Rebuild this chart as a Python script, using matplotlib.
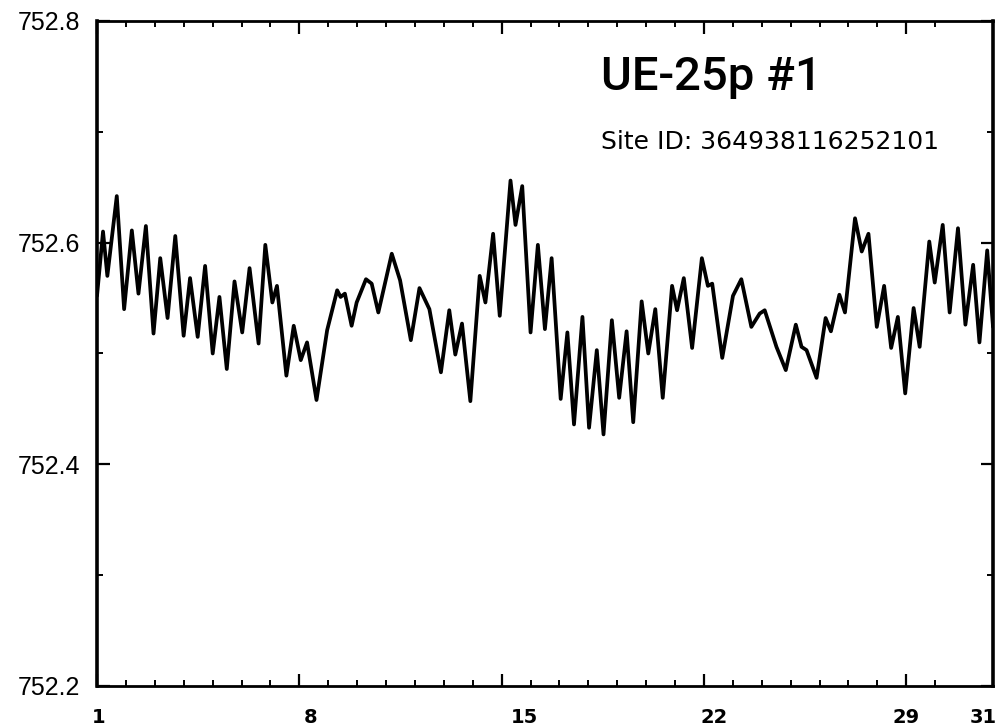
import matplotlib
matplotlib.use("Agg")
import matplotlib.pyplot as plt
import matplotlib.transforms as mtransforms
from matplotlib.ticker import MultipleLocator

# ---- data ----
day = [1.000, 1.208, 1.358, 1.684, 1.938, 2.205, 2.434, 2.691, 2.955, 3.188,
       3.441, 3.708, 3.997, 4.219, 4.483, 4.740, 5.003, 5.236, 5.490, 5.757,
       6.024, 6.278, 6.590, 6.823, 7.066, 7.226, 7.552, 7.806, 8.049, 8.267,
       8.594, 8.962, 9.309, 9.427, 9.576, 9.809, 9.983, 10.306, 10.503, 10.733,
       11.198, 11.486, 11.858, 12.156, 12.500, 12.899, 13.188, 13.396, 13.628, 13.917,
       14.240, 14.438, 14.705, 14.934, 15.306, 15.479, 15.712, 16.000, 16.253, 16.497,
       16.729, 17.042, 17.274, 17.503, 17.795, 18.024, 18.292, 18.524, 18.813, 19.066,
       19.323, 19.552, 19.844, 20.073, 20.316, 20.573, 20.896, 21.069, 21.302, 21.590,
       21.927, 22.135, 22.285, 22.632, 23.003, 23.292, 23.639, 23.927, 24.101, 24.507,
       24.830, 25.177, 25.375, 25.549, 25.896, 26.208, 26.392, 26.684, 26.878, 27.226,
       27.458, 27.691, 27.979, 28.233, 28.476, 28.708, 28.962, 29.253, 29.462, 29.795,
       29.983, 30.260, 30.500, 30.788, 31.045, 31.313, 31.531, 31.799, 32.000]
level = [752.552, 752.610, 752.570, 752.642, 752.540, 752.611, 752.554, 752.615, 752.518, 752.586,
         752.532, 752.606, 752.516, 752.568, 752.515, 752.579, 752.500, 752.551, 752.486, 752.565,
         752.519, 752.577, 752.509, 752.598, 752.546, 752.561, 752.480, 752.525, 752.494, 752.510,
         752.458, 752.521, 752.557, 752.551, 752.554, 752.525, 752.546, 752.567, 752.563, 752.537,
         752.590, 752.566, 752.512, 752.559, 752.540, 752.483, 752.539, 752.499, 752.527, 752.457,
         752.570, 752.546, 752.608, 752.534, 752.656, 752.616, 752.651, 752.519, 752.598, 752.522,
         752.586, 752.459, 752.519, 752.436, 752.533, 752.433, 752.503, 752.427, 752.530, 752.460,
         752.520, 752.438, 752.547, 752.500, 752.540, 752.460, 752.561, 752.539, 752.568, 752.505,
         752.586, 752.561, 752.563, 752.496, 752.552, 752.567, 752.524, 752.536, 752.539, 752.506,
         752.485, 752.526, 752.506, 752.503, 752.478, 752.532, 752.520, 752.553, 752.537, 752.622,
         752.592, 752.608, 752.524, 752.561, 752.505, 752.533, 752.464, 752.541, 752.506, 752.601,
         752.564, 752.616, 752.537, 752.613, 752.526, 752.580, 752.510, 752.593, 752.524]

x_ticks = [1, 8, 15, 22, 29, 31]
x_tick_labels = ["1", "8", "15", "22", "29", "31"]
y_ticks = [752.2, 752.4, 752.6, 752.8]
y_tick_labels = ["752.2", "752.4", "752.6", "752.8"]
title = "UE-25p #1"
subtitle = "Site ID: 364938116252101"

# ---- figure ----
fig = plt.figure(figsize=(9.96, 7.28), dpi=100)
ax = fig.add_axes([0.0974, 0.0577, 0.8996, 0.9135])

ax.plot(day, level, color="black", lw=2.7, solid_joinstyle="round",
        solid_capstyle="round")

ax.set_xlim(1, 32)
ax.set_ylim(752.2, 752.8)

ax.set_xticks(x_ticks)
ax.set_xticklabels(x_tick_labels, fontweight="bold", fontsize=14,
                   family="DejaVu Sans")
ax.xaxis.set_minor_locator(MultipleLocator(1))
ax.set_yticks(y_ticks)
ax.set_yticklabels(y_tick_labels, fontsize=18, family="Liberation Sans")
ax.yaxis.set_minor_locator(MultipleLocator(0.1))

ax.tick_params(axis="both", which="major", direction="in", length=9, width=1.6,
               top=True, right=True, color="black")
ax.tick_params(axis="both", which="minor", direction="in", length=4.5, width=1.4,
               top=True, right=True, color="black")
ax.tick_params(axis="x", which="major", pad=16)
ax.tick_params(axis="y", which="major", pad=12)

# tick 31 is only a minor tick; hide its major tick marks
for t in ax.xaxis.get_major_ticks():
    if abs(t.get_loc() - 31) < 1e-6:
        t.tick1line.set_visible(False)
        t.tick2line.set_visible(False)

# small horizontal offsets of the x tick labels as in the reference
offsets_px = [2, 11, 23, 10, 0, 19]
for lab, off in zip(ax.get_xticklabels(), offsets_px):
    lab.set_transform(lab.get_transform() +
                      mtransforms.ScaledTranslation(off / 100, 0, fig.dpi_scale_trans))

for side in ["left", "right", "top", "bottom"]:
    ax.spines[side].set_linewidth(2.0)
ax.spines["left"].set_linewidth(2.6)
ax.spines["right"].set_linewidth(2.6)

ax.text(0.562, 0.915, title, transform=ax.transAxes, fontsize=34,
        family="Roboto", fontweight="medium", ha="left", va="center",
        color="black")
ax.text(0.562, 0.818, subtitle, transform=ax.transAxes, fontsize=18,
        family="DejaVu Sans", ha="left", va="center", color="black")

fig.savefig("out.png", dpi=100)
